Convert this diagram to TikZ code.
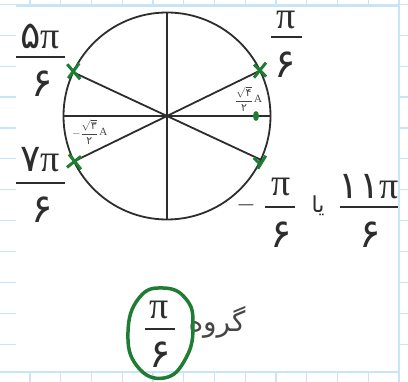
\documentclass[tikz,border=0pt]{standalone}
\usepackage{fontspec}
\setmainfont{Liberation Serif}
\newfontfamily\pf[Script=Arabic]{DejaVu Sans}
\TeXXeTstate=1
\usetikzlibrary{calc}
\definecolor{gridc}{RGB}{200,228,248}
\definecolor{ink}{RGB}{45,45,45}
\definecolor{gmark}{RGB}{30,125,50}
\definecolor{txtg}{RGB}{70,70,70}
\tikzset{
  gridline/.style={draw=gridc, line width=1.2pt},
  inkline/.style={draw=ink, line width=1.8pt},
  fbar/.style={draw=ink, line width=1.8pt},
  gm/.style={draw=gmark, line width=3pt},
  big/.style={inner sep=0pt, text=ink, font=\fontsize{38}{40}\selectfont},
  den/.style={inner sep=0pt, text=ink, font=\fontsize{40}{42}\selectfont},
  small/.style={inner sep=0pt, text=txtg, font=\fontsize{11}{12}\selectfont},
}
\begin{document}
\begin{tikzpicture}[x=1pt,y=-1pt]
\useasboundingbox (0,0) rectangle (408,382);
\fill[white] (0,0) rectangle (408,382);
% notebook grid
\foreach \i in {0,...,12} \draw[gridline] ({30+30.75*\i},0) -- ({30+30.75*\i},382);
\foreach \j in {0,...,11} \draw[gridline] (0,{4.4+30.9*\j}) -- (408,{4.4+30.9*\j});
\fill[white] (16,6) rectangle (399,372);
\draw[gridline] (16,6) -- (399,6) -- (399,372) -- (0,372);
% circle and diameters
\node[draw=ink, line width=1.8pt, circle, minimum size=207pt, inner sep=0pt, outer sep=0pt] (c) at (167,116) {};
\draw[inkline] (c.north) -- (c.south);
\draw[inkline] (c.west) -- (c.east);
\draw[inkline] (c.26) -- (c.206);
\draw[inkline] (c.155.5) -- (c.335.5);
% green marks
\draw[gm] ($(c.155.5)+(-6,-8)$) -- ++(13,15);
\draw[gm] ($(c.155.5)+(6,-9)$) -- ++(-11,15);
\draw[gm] ($(c.206)+(-5,-7)$) -- ++(12,15);
\draw[gm] ($(c.206)+(7,-5)$) -- ++(-14,11);
\draw[gm] ($(c.26)+(-6,-6)$) -- ++(12,12);
\draw[gm] ($(c.26)+(6,-8)$) -- ++(-12,15);
\draw[gm] ($(c.335.5)+(-7,-2)$) -- ++(6,6);
\draw[gm] ($(c.335.5)+(5,-4)$) -- ++(-8,13);
\coordinate (dot) at (256,116);
\fill[gmark] (dot) ellipse (3pt and 5pt);
% small labels
\node[small] (fr) at (244,99) {$\displaystyle\frac{\sqrt{\hbox{\pf ۴}}}{\hbox{\pf ۲}}$};
\node[small, anchor=west] (ar) at ([xshift=1pt]fr.east) {A};
\node[small] (fl) at (85,132) {$\displaystyle-\frac{\sqrt{\hbox{\pf ۳}}}{\hbox{\pf ۲}}$};
\node[small, anchor=west] (al) at ([xshift=1pt]fl.east) {A};
% 5pi/6
\node[big] (n1) at (40,36) {{\pf ۵}π};
\draw[fbar] (16,57) -- (65,57);
\node[den] (d1) at (42,84) {\pf ۶};
% 7pi/6
\node[big] (n2) at (40,160) {{\pf ۷}π};
\draw[fbar] (16,183) -- (65,183);
\node[den] (d2) at (42,210) {\pf ۶};
% pi/6
\node[big] (n3) at (286,20) {π};
\draw[fbar] (271,37) -- (302,37);
\node[den] (d3) at (285,65) {\pf ۶};
% -pi/6 or 11pi/6
\node[big] (m4) at (246,205) {$-$};
\node[big] (n4) at (281,187) {π};
\draw[fbar] (265,207) -- (295,207);
\node[den] (d4) at (281,235) {\pf ۶};
\node[inner sep=0pt, text=ink, font=\fontsize{22}{24}\selectfont] (ya) at (318,206) {\pf\beginR یا\endR};
\node[big] (n5) at (369,187) {{\pf ۱۱}π};
\draw[fbar] (340,207) -- (398,207);
\node[den] (d5) at (370,235) {\pf ۶};
% group
\node[big] (n6) at (159,310) {π};
\draw[fbar] (145,329) -- (175,329);
\node[den] (d6) at (160,355) {\pf ۶};
\node[inner sep=0pt, text=txtg, font=\fontsize{28}{30}\selectfont] (gr) at (217,322) {\pf\beginR گروه\endR};
\draw[gm, line width=3.5pt] plot[smooth cycle, tension=0.8] coordinates {(163,288) (186,299) (193,325) (186,358) (164,378) (137,366) (128,332) (139,298)};
\end{tikzpicture}
\end{document}
